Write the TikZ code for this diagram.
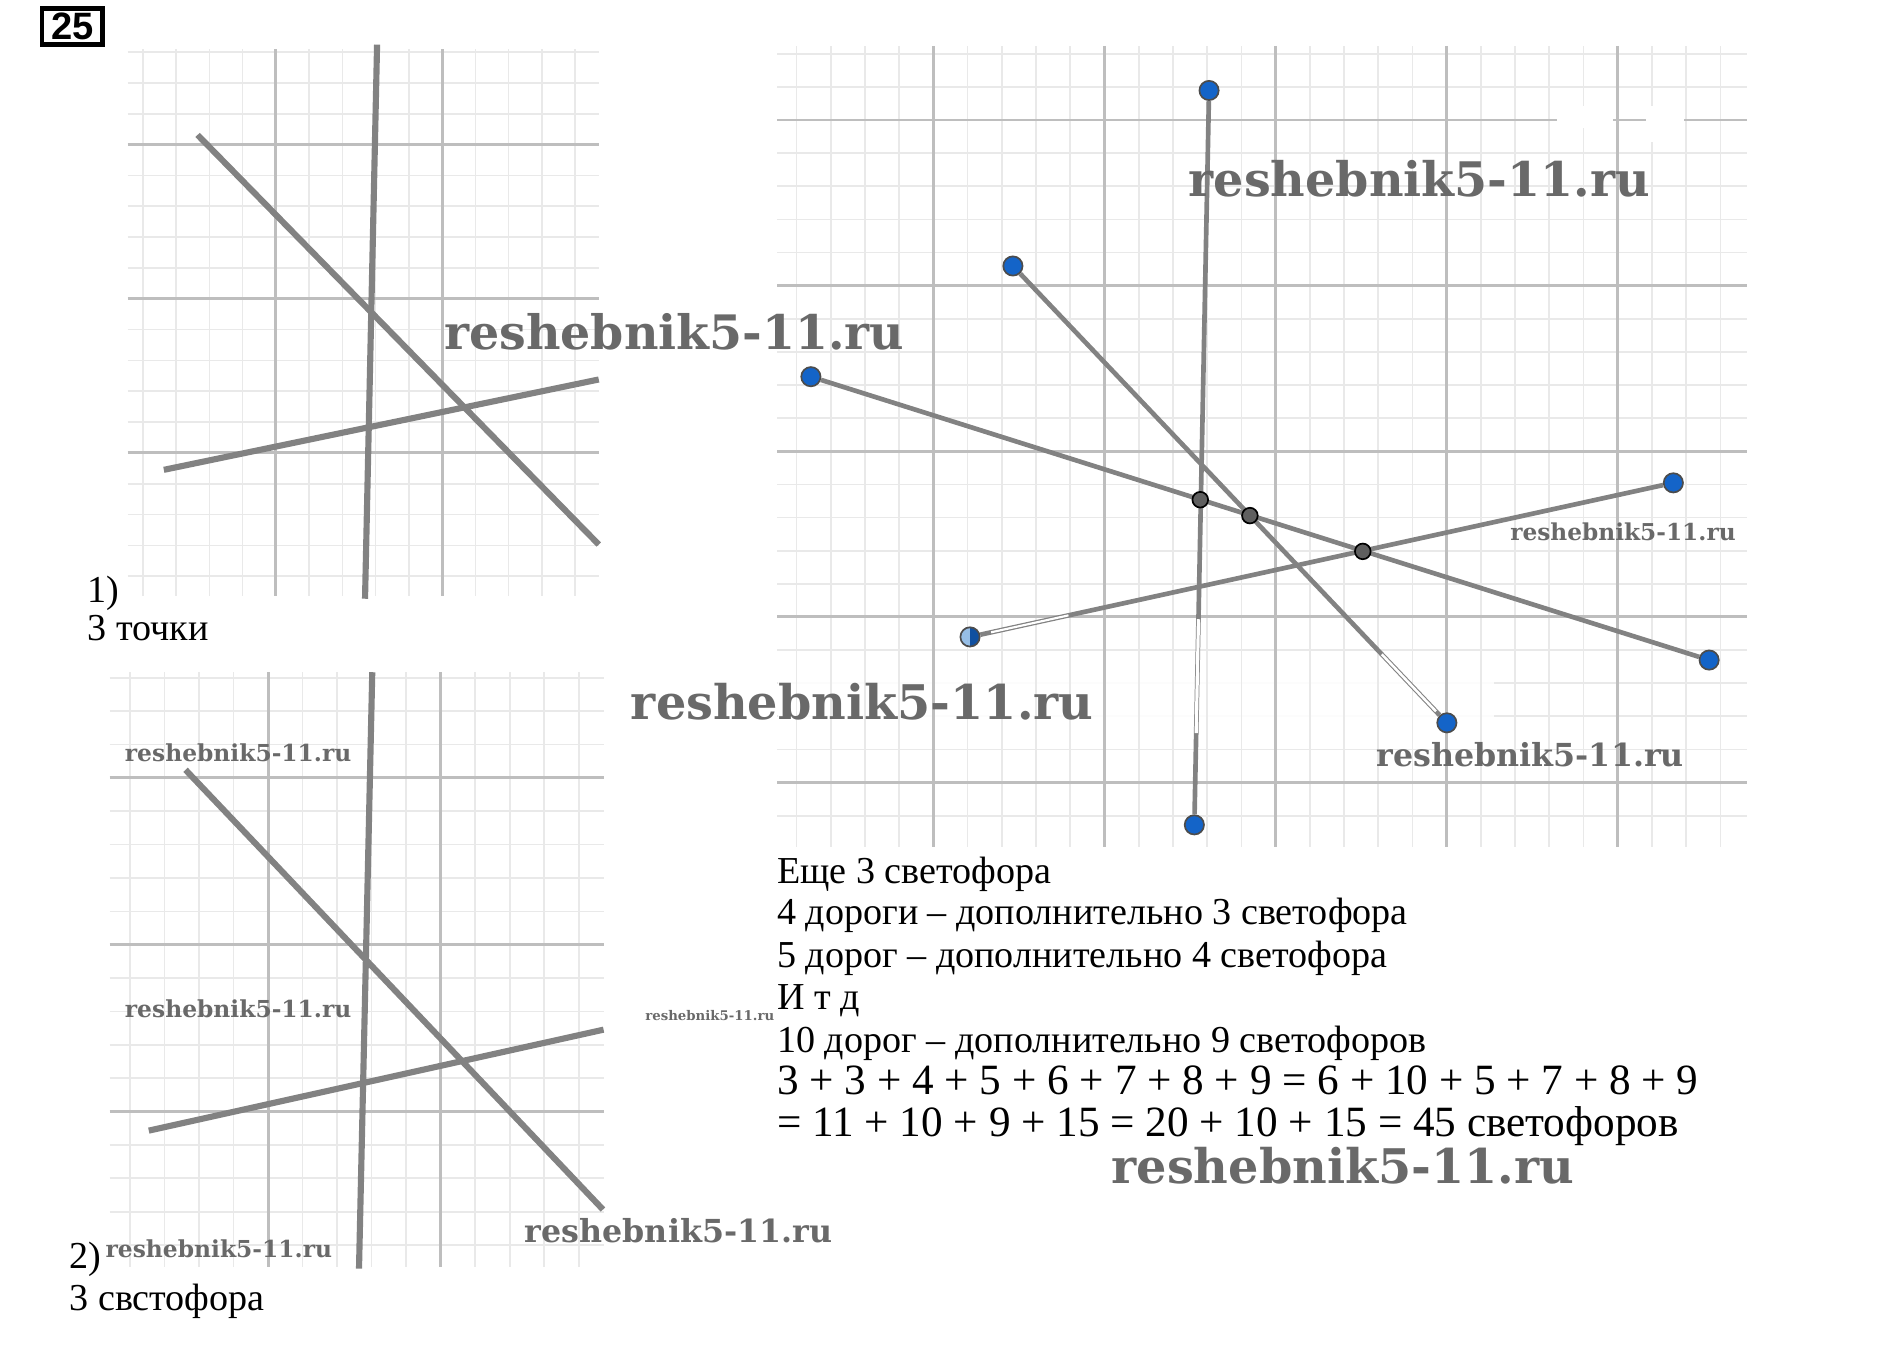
\documentclass[tikz,border=0pt]{standalone}
\usepackage{fontspec}
\usepackage{graphicx}
\setmainfont{Liberation Serif}
\newfontfamily\boxfont{Liberation Sans}
\newfontfamily\wmfont{DejaVu Serif}
\usetikzlibrary{calc}

\definecolor{gridminor}{RGB}{233,233,233}
\definecolor{gridmajor}{RGB}{190,190,190}
\definecolor{roadgray}{RGB}{130,130,130}
\definecolor{ptblue}{RGB}{20,100,200}
\definecolor{ptlight}{RGB}{150,190,230}
\definecolor{ptdark}{RGB}{95,95,95}
\definecolor{wmgray}{RGB}{105,105,105}

% watermark of a given width
\newcommand{\wmark}[1]{\resizebox{#1}{!}{\wmfont\bfseries reshebnik5-11.ru}}

\begin{document}
\begin{tikzpicture}[x=0.1mm, y=-0.1mm,
    minor/.style={draw=gridminor, line width=0.4pt},
    major/.style={draw=gridmajor, line width=0.7pt},
    road/.style={draw=roadgray, line width=1.45pt},
    thinroad/.style={draw=roadgray, line width=1.1pt},
    bluept/.style={circle, fill=ptblue, draw=black!70, line width=0.4pt, inner sep=0, minimum size=1.6mm},
    lightpt/.style={bluept, fill=ptlight, path picture={
        \fill[ptblue!80!black] (path picture bounding box.north) rectangle (path picture bounding box.south east);}},
    crosspt/.style={circle, fill=ptdark, draw=black, line width=0.4pt, inner sep=0, minimum size=1.3mm},
    txt/.style={inner sep=0, anchor=base west, font=\fontsize{9pt}{10pt}\selectfont},
    sumtxt/.style={txt, font=\fontsize{10.2pt}{12pt}\selectfont},
    wm/.style={inner sep=0, anchor=base west, text=wmgray}]
\useasboundingbox (0,0) rectangle (1568,1134);

% task number
\node[draw, line width=1pt, minimum width=5mm, minimum height=3mm, inner sep=0,
      font=\boxfont\bfseries\fontsize{9pt}{9pt}\selectfont] (num) at (60,22) {25};

% grid 1
\foreach \i in {0,...,13} \draw[minor] ({118.6+27.6*\i},41) -- ({118.6+27.6*\i},495);
\foreach \i in {0,...,17} \draw[minor] (106,{43.2+25.6*\i}) -- (497,{43.2+25.6*\i});
\foreach \x in {229,367} \draw[major] (\x,41) -- (\x,495);
\foreach \y in {120,248,376} \draw[major] (106,\y) -- (497,\y);

% roads 1
\coordinate (a1) at (313,37);  \coordinate (a2) at (303,497);
\coordinate (b1) at (164,112); \coordinate (b2) at (497,452);
\coordinate (c1) at (136,390); \coordinate (c2) at (497,315);
\draw[road] (a1) -- (a2);
\draw[road] (b1) -- (b2);
\draw[road] (c1) -- (c2);

\node[txt] (lab1) at (72,500) {1)};
\node[txt] (pts) at (72,532) {3 точки};

% grid 2
\foreach \i in {0,...,13} \draw[minor] ({107.9+28.65*\i},558) -- ({107.9+28.65*\i},1052);
\foreach \i in {0,...,17} \draw[minor] (91,{562.6+27.7*\i}) -- (501,{562.6+27.7*\i});
\foreach \x in {222.5,365.8} \draw[major] (\x,558) -- (\x,1052);
\foreach \y in {645.7,784.2,922.7} \draw[major] (91,\y) -- (501,\y);

% roads 2
\coordinate (d1) at (309,558);   \coordinate (d2) at (298,1053);
\coordinate (e1) at (154,639);   \coordinate (e2) at (500.5,1004);
\coordinate (f1) at (123.5,938.5); \coordinate (f2) at (501,854.7);
\draw[road] (d1) -- (d2);
\draw[road] (e1) -- (e2);
\draw[road] (f1) -- (f2);

\node[txt] (lab2) at (57,1053) {2)};
\node[txt] (lights) at (57,1088) {3 свстофора};

% grid 3
\foreach \i in {0,...,23} \draw[minor] (645,{44.6+27.5*\i}) -- (1450,{44.6+27.5*\i});
\fill[white, opacity=0.9] (646,553) rectangle (1240,606);
\foreach \i in {0,...,27} \draw[minor] ({661.2+28.4*\i},38) -- ({661.2+28.4*\i},703);
\foreach \x in {774.8,916.8,1058.8,1200.8,1342.8} \draw[major] (\x,38) -- (\x,703);
\foreach \y in {99.6,237.1,374.6,512.1,649.6} \draw[major] (645,\y) -- (1450,\y);
\fill[white] (1292,88) rectangle (1339,106);
\fill[white] (1366,88) rectangle (1398,118);

% road ends
\node[bluept] (vt) at (1003.6,75.1) {};
\node[bluept] (vb) at (991.4,684.7) {};
\node[bluept] (w) at (673.1,312.7) {};
\node[bluept] (e) at (1418.7,547.9) {};
\node[bluept] (nw) at (840.8,220.8) {};
\node[bluept] (se) at (1201,600) {};
\node[lightpt] (sw) at (805.2,528.7) {};
\node[bluept] (ne) at (1389,400.8) {};

% roads 3
\draw[thinroad] (vt) -- (vb);
\draw[thinroad] (w) -- (e);
\draw[thinroad] (nw) -- (se);
\draw[thinroad] (sw) -- (ne);
\draw[white, line width=0.75pt] ($(vt)!0.72!(vb)$) -- ($(vt)!0.875!(vb)$);
\draw[white, line width=0.6pt] ($(nw)!0.85!(se)$) -- ($(nw)!0.975!(se)$);
\draw[white, line width=0.5pt] ($(sw)!0.03!(ne)$) -- ($(sw)!0.14!(ne)$);

% new lights
\node[crosspt] (x1) at (996.3,414.8) {};
\node[crosspt] (x2) at (1037.5,428.0) {};
\node[crosspt] (x3) at (1131.2,457.7) {};

% text
\node[txt] (t1) at (644.5,733) {Еще 3 светофора};
\node[txt] (t2) at (644.5,767.5) {4 дороги – дополнительно 3 светофора};
\node[txt] (t3) at (644.5,802.8) {5 дорог – дополнительно 4 светофора};
\node[txt] (t4) at (644.5,837.8) {И т д};
\node[txt] (t5) at (644.5,873.4) {10 дорог – дополнительно 9 светофоров};
\node[sumtxt] (t6) at (644.5,908.5) {3 + 3 + 4 + 5 + 6 + 7 + 8 + 9 = 6 + 10 + 5 + 7 + 8 + 9};
\node[sumtxt] (t7) at (644.5,943.6) {= 11 + 10 + 9 + 15 = 20 + 10 + 15 = 45 светофоров};

% watermarks
\node[wm] (m1) at (368,290) {\wmark{38.2mm}};
\node[wm] (m2) at (986,163) {\wmark{38.3mm}};
\node[wm] (m3) at (523,597) {\wmark{38.4mm}};
\node[wm] (m4) at (922,982) {\wmark{38.4mm}};
\node[wm] (m5) at (435,1031) {\wmark{25.5mm}};
\node[wm] (m6) at (1142,636) {\wmark{25.5mm}};
\node[wm] (m7) at (103,632) {\wmark{18.8mm}};
\node[wm] (m8) at (103,845) {\wmark{18.8mm}};
\node[wm] (m9) at (87,1044) {\wmark{18.8mm}};
\node[wm] (m10) at (1253,449) {\wmark{18.7mm}};
\node[wm] (m11) at (535,847) {\wmark{10.7mm}};
\end{tikzpicture}
\end{document}
